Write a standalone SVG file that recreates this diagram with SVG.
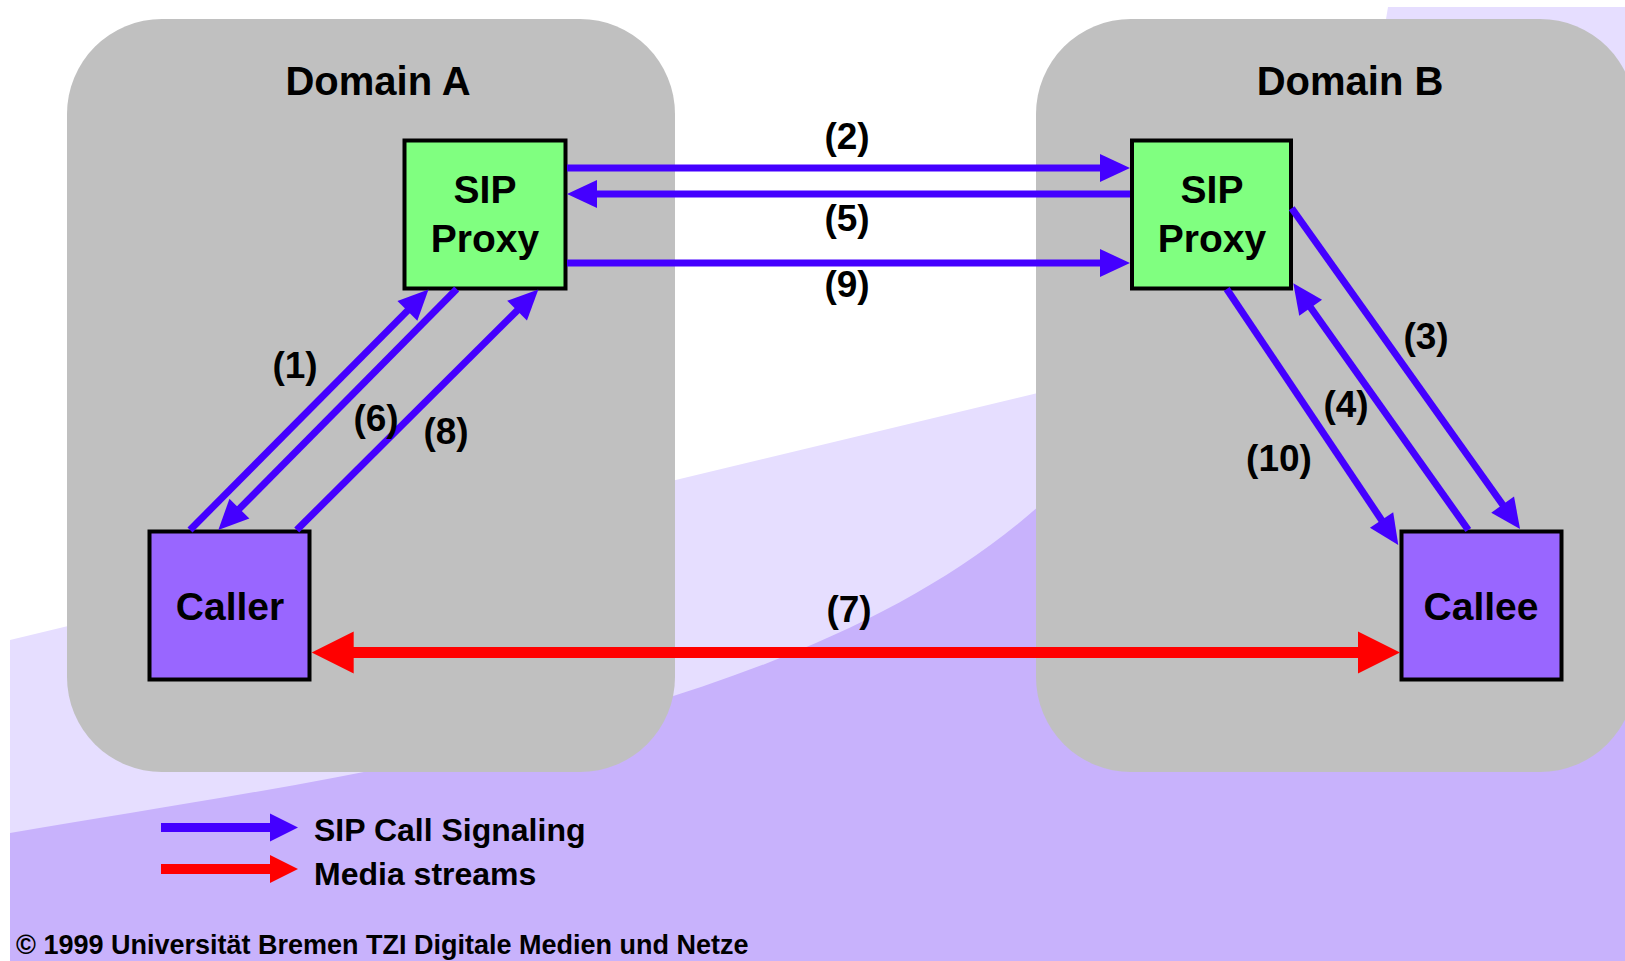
<svg xmlns="http://www.w3.org/2000/svg" width="1625" height="961" viewBox="0 0 1625 961">
  <style>
    .t{font-family:"Liberation Sans",Arial,Helvetica,sans-serif;font-weight:bold;fill:#000}
    .dom{font-size:40px;text-anchor:middle}
    .nodetxt{font-size:39px;text-anchor:middle}
    .lbl{font-size:37px;text-anchor:middle}
    .leg{font-size:32px}
    .copy{font-size:27px}
    .domain{fill:#C0C0C0}
    .box{stroke:#000;stroke-width:4}
    .proxy{fill:#80FF80}
    .ua{fill:#9966FF}
    .sig{stroke:#4400FF;stroke-width:7;fill:none;marker-end:url(#headBlue)}
    .media{stroke:#FF0000;stroke-width:11;fill:none;marker-start:url(#headRed);marker-end:url(#headRed)}
  </style>
  <defs>
    <marker id="headBlue" markerUnits="userSpaceOnUse" markerWidth="30" markerHeight="28" refX="2" refY="14" orient="auto" overflow="visible">
      <path d="M0,0 L30,14 L0,28 Z" fill="#4400FF"/>
    </marker>
    <marker id="headRed" markerUnits="userSpaceOnUse" markerWidth="42" markerHeight="42" refX="2" refY="21" orient="auto-start-reverse" overflow="visible">
      <path d="M0,0 L42,21 L0,42 Z" fill="#FF0000"/>
    </marker>
    <marker id="legBlue" markerUnits="userSpaceOnUse" markerWidth="28" markerHeight="28" refX="2" refY="14" orient="auto" overflow="visible">
      <path d="M0,0 L28,14 L0,28 Z" fill="#4400FF"/>
    </marker>
    <marker id="legRed" markerUnits="userSpaceOnUse" markerWidth="28" markerHeight="28" refX="2" refY="14" orient="auto" overflow="visible">
      <path d="M0,0 L28,14 L0,28 Z" fill="#FF0000"/>
    </marker>
  </defs>

  <!-- slide background bands -->
  <g id="background">
    <rect x="0" y="0" width="1625" height="961" fill="#FFFFFF"/>
    <path d="M10,640 L1100,378 Q1340,320 1388,7 L1625,7 L1625,961 L10,961 Z" fill="#E6DEFF"/>
    <path d="M10,833 C350,775 800,720 1040,505 L1300,200 L1625,200 L1625,961 L10,961 Z" fill="#C8B2FC"/>
  </g>

  <g id="domain-a">
    <rect class="domain" x="67" y="19" width="608" height="753" rx="95" ry="95"/>
    <text class="t dom" x="378" y="95">Domain A</text>
  </g>
  <g id="domain-b">
    <rect class="domain" x="1036" y="19" width="599" height="753" rx="95" ry="95"/>
    <text class="t dom" x="1350" y="95">Domain B</text>
  </g>

  <g id="proxy-a">
    <rect class="box proxy" x="404.5" y="140.5" width="161" height="148"/>
    <text class="t nodetxt" x="485" y="203">SIP</text>
    <text class="t nodetxt" x="485" y="252">Proxy</text>
  </g>
  <g id="proxy-b">
    <rect class="box proxy" x="1132" y="140.5" width="159" height="148"/>
    <text class="t nodetxt" x="1212" y="203">SIP</text>
    <text class="t nodetxt" x="1212" y="252">Proxy</text>
  </g>
  <g id="caller">
    <rect class="box ua" x="149.5" y="531.5" width="160" height="148"/>
    <text class="t nodetxt" x="230" y="620">Caller</text>
  </g>
  <g id="callee">
    <rect class="box ua" x="1401.5" y="531.5" width="160" height="148"/>
    <text class="t nodetxt" x="1481" y="620">Callee</text>
  </g>

  <g id="connectors">
    <!-- proxy to proxy -->
    <line class="sig" x1="567" y1="168" x2="1102" y2="168"/>
    <line class="sig" x1="1130" y1="194" x2="595" y2="194"/>
    <line class="sig" x1="567" y1="263" x2="1102" y2="263"/>
    <!-- caller side -->
    <line class="sig" x1="190" y1="530" x2="408.8" y2="309.4"/>
    <line class="sig" x1="456.7" y1="289" x2="238" y2="510.1"/>
    <line class="sig" x1="296.7" y1="530" x2="518.5" y2="309.2"/>
    <!-- callee side -->
    <line class="sig" x1="1291.7" y1="208.3" x2="1503.8" y2="506.2"/>
    <line class="sig" x1="1468.3" y1="530" x2="1309.5" y2="306.1"/>
    <line class="sig" x1="1226.7" y1="289" x2="1382.7" y2="521.7"/>
    <!-- media path -->
    <line class="media" x1="351.7" y1="652.5" x2="1360" y2="652.5"/>

    <text class="t lbl" x="847" y="149">(2)</text>
    <text class="t lbl" x="847" y="231">(5)</text>
    <text class="t lbl" x="847" y="297">(9)</text>
    <text class="t lbl" x="295" y="378">(1)</text>
    <text class="t lbl" x="376" y="431">(6)</text>
    <text class="t lbl" x="446" y="444">(8)</text>
    <text class="t lbl" x="1426" y="349">(3)</text>
    <text class="t lbl" x="1346" y="417">(4)</text>
    <text class="t lbl" x="1279" y="471">(10)</text>
    <text class="t lbl" x="849" y="622">(7)</text>
  </g>

  <g id="legend">
    <line x1="161" y1="827.5" x2="272" y2="827.5" stroke="#4400FF" stroke-width="9" marker-end="url(#legBlue)"/>
    <line x1="161" y1="869" x2="272" y2="869" stroke="#FF0000" stroke-width="10" marker-end="url(#legRed)"/>
    <text class="t leg" x="314" y="841">SIP Call Signaling</text>
    <text class="t leg" x="314" y="885">Media streams</text>
  </g>

  <text class="t copy" x="16" y="954">© 1999 Universität Bremen TZI Digitale Medien und Netze</text>
</svg>
